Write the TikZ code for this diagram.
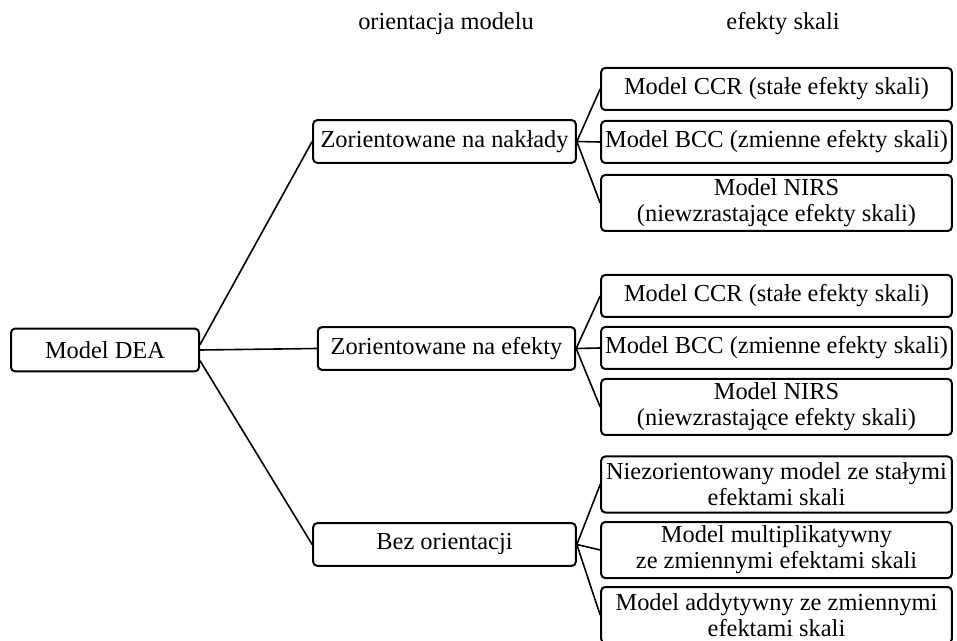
\documentclass[tikz,border=0pt]{standalone}
\usepackage{fontspec}
\setmainfont{Liberation Serif}
\usetikzlibrary{calc}
\newcommand{\dfont}{\fontsize{18.3}{19.5}\selectfont}
\tikzset{
 box/.style={draw, line width=1.5pt, rounded corners=3pt, align=center, inner sep=0pt, font=\dfont},
 midbox/.style={box, minimum height=32pt},
 leafbox/.style={box, minimum width=263pt, minimum height=31.5pt},
 leaftwo/.style={leafbox, minimum height=42pt},
 head/.style={font=\dfont},
 link/.style={line width=1.2pt}
}
\begin{document}
\begin{tikzpicture}[x=0.75pt, y=-0.75pt]
\useasboundingbox (0,0) rectangle (957,641);
\node[head] (hor) at (446,24) {orientacja modelu};
\node[head] (hef) at (783,24) {efekty skali};
\node[box, minimum width=141pt, minimum height=32pt] (dea) at (105,350) {Model DEA};
\node[midbox, minimum width=197pt] (nak) at (444.5,141.5) {Zorientowane na nakłady};
\node[midbox, minimum width=193pt] (efe) at (446.5,348.5) {Zorientowane na efekty};
\node[midbox, minimum width=197pt] (bez) at (444.5,544.5) {Bez orientacji};
% nakłady
\node[leafbox] (nak1) at (776.5,89) {Model CCR (stałe efekty skali)};
\node[leafbox] (nak2) at (776.5,142) {Model BCC (zmienne efekty skali)};
\node[leaftwo] (nak3) at (776.5,203) {Model NIRS\\(niewzrastające efekty skali)};
% efekty
\node[leafbox] (efe1) at (776.5,296) {Model CCR (stałe efekty skali)};
\node[leafbox] (efe2) at (776.5,348) {Model BCC (zmienne efekty skali)};
\node[leaftwo] (efe3) at (776.5,407) {Model NIRS\\(niewzrastające efekty skali)};
% bez orientacji
\node[leaftwo] (bez1) at (776.5,484.5) {Niezorientowany model ze stałymi\\efektami skali};
\node[leaftwo] (bez2) at (776.5,550) {Model multiplikatywny\\ze zmiennymi efektami skali};
\node[leaftwo] (bez3) at (776.5,615) {Model addytywny ze zmiennymi\\efektami skali};
\draw[link] ([yshift=4pt]dea.east) -- (nak.west);
\draw[link] (dea.east) -- (efe.west);
\draw[link] ([yshift=-8pt]dea.east) -- (bez.west);
\foreach \m in {nak,efe,bez}
 \foreach \i in {1,2,3}
  \draw[link] (\m.east) -- (\m\i.west);
\end{tikzpicture}
\end{document}
